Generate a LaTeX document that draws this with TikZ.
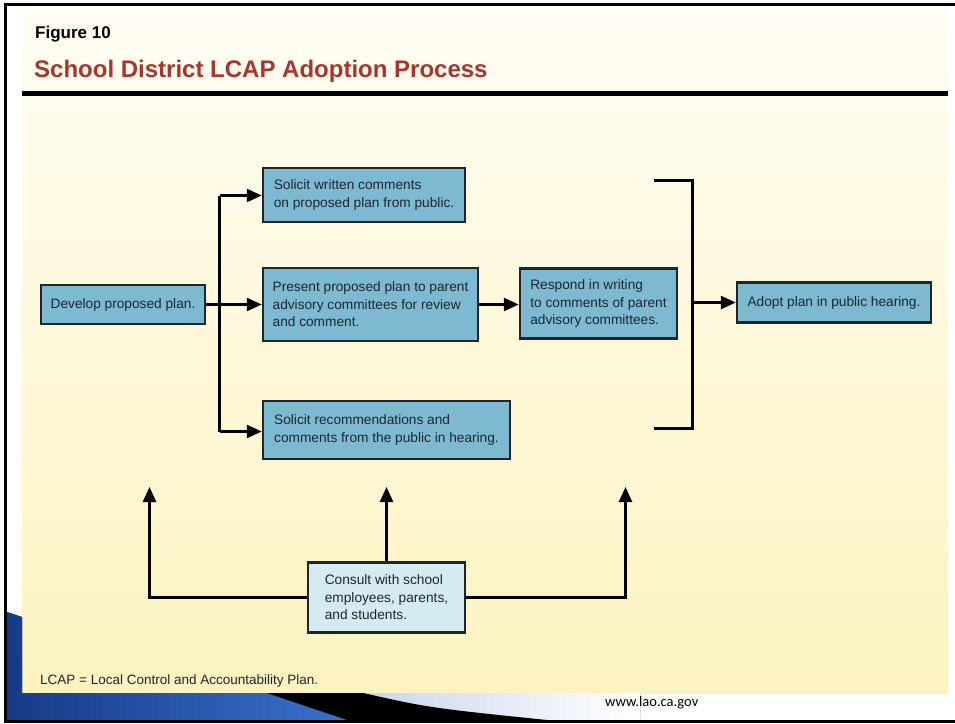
\documentclass[tikz,border=0pt]{standalone}
\usepackage{fontspec}
\setmainfont{Liberation Sans}
\newfontfamily\webfont{Carlito}
\usetikzlibrary{arrows.meta}
\definecolor{panelTop}{HTML}{FFFDF4}
\definecolor{panelBot}{HTML}{FCF3C0}
\definecolor{boxBlue}{HTML}{7DBAD2}
\definecolor{boxLight}{HTML}{D6EAF2}
\definecolor{boxEdge}{HTML}{1E262C}
\definecolor{inkText}{HTML}{1C2630}
\definecolor{titleRed}{HTML}{A7362F}
\definecolor{decoBlue}{HTML}{3A72CC}
\definecolor{decoDeep}{HTML}{163A88}
\definecolor{decoPale}{HTML}{C9D6EE}
\begin{document}
\begin{tikzpicture}[
    x=1pt, y=-1pt,
    every node/.style={inner sep=0pt, text=inkText},
    planbox/.style={draw=boxEdge, line width=2.5pt, fill=boxBlue, align=left,
        font=\fontsize{13.7}{17.5}\selectfont},
    consultbox/.style={planbox, fill=boxLight},
    flow/.style={draw=black, line width=2.6pt, -{Triangle[length=15pt,width=13pt]}},
    rail/.style={draw=black, line width=2.6pt}
]
\useasboundingbox (0,0) rectangle (955,723);
\shade[top color=panelTop, bottom color=panelBot] (22,7) rectangle (948,693);
\fill[left color=decoDeep, right color=decoBlue]
    (7,612) -- (22,617) -- (22,693) -- (267,693) -- (350,721) -- (7,721) -- cycle;
\fill[left color=decoPale, right color=white]
    (363,693) -- (640,693) -- (640,721) -- (470,721) -- cycle;
\fill[black] (267,693) -- (363,693) .. controls (430,708) .. (557,721) -- (350,721) -- cycle;
\draw[line width=2.6pt] (955,4.5) -- (5.5,4.5) -- (5.5,721.5) -- (955,721.5);
\fill[black] (22,90.5) rectangle (948,95.5);

\node[anchor=base west, font=\bfseries\fontsize{17}{20}\selectfont, text=black] (fig) at (35,38) {Figure 10};
\node[anchor=base west, font=\bfseries\fontsize{24}{28}\selectfont, text=titleRed] (title) at (34,77)
    {School District LCAP Adoption Process};

\node[planbox, minimum width=164, minimum height=39] (dev) at (123,304.5) {Develop proposed plan.};
\node[planbox, minimum width=202, minimum height=54] (solw) at (364,195)
    {Solicit written comments\\on proposed plan from public.};
\node[planbox, minimum width=215, minimum height=73] (pres) at (370.5,304.5)
    {Present proposed plan to parent\\advisory committees for review\\and comment.};
\node[planbox, minimum width=247, minimum height=58] (solr) at (386.5,430)
    {Solicit recommendations and\\comments from the public in hearing.};
\node[planbox, minimum width=157, minimum height=70] (resp) at (598.5,303.5)
    {Respond in writing\\to comments of parent\\advisory committees.};
\node[planbox, minimum width=194, minimum height=40] (adopt) at (834,302.5) {Adopt plan in public hearing.};
\node[consultbox, minimum width=157, minimum height=70] (cons) at (386.5,597.5)
    {Consult with school\\employees, parents,\\and students.};

\coordinate (bt) at (219.5,195.5);
\coordinate (bb) at (219.5,431.5);
\coordinate (kt) at (654,180.5);
\coordinate (kb) at (654,428.5);
\coordinate (km) at (692.5,302.5);
\coordinate (ul) at (149.5,487);
\coordinate (ur) at (625.5,487);

\draw[rail] (bt) -- (bb);
\draw[flow] (dev) -- (pres);
\draw[flow] (bt) -- (solw.west |- bt);
\draw[flow] (bb) -- (solr.west |- bb);
\draw[flow] (pres.east) -- (resp.west |- pres.east);
\draw[rail] (kt) -| (km) |- (kb);
\draw[flow] (km) -- (adopt);
\draw[flow] (cons.north) -- (cons.north |- ul);
\draw[flow] (cons.west) -| (ul);
\draw[flow] (cons.east) -| (ur);

\node[anchor=base west, font=\fontsize{13.5}{16}\selectfont] (note) at (40,684)
    {LCAP = Local Control and Accountability Plan.};
\node[anchor=base west, font=\webfont\fontsize{14.5}{17}\selectfont, text=black] (web) at (605,706) {www.lao.ca.gov};
\end{tikzpicture}
\end{document}
